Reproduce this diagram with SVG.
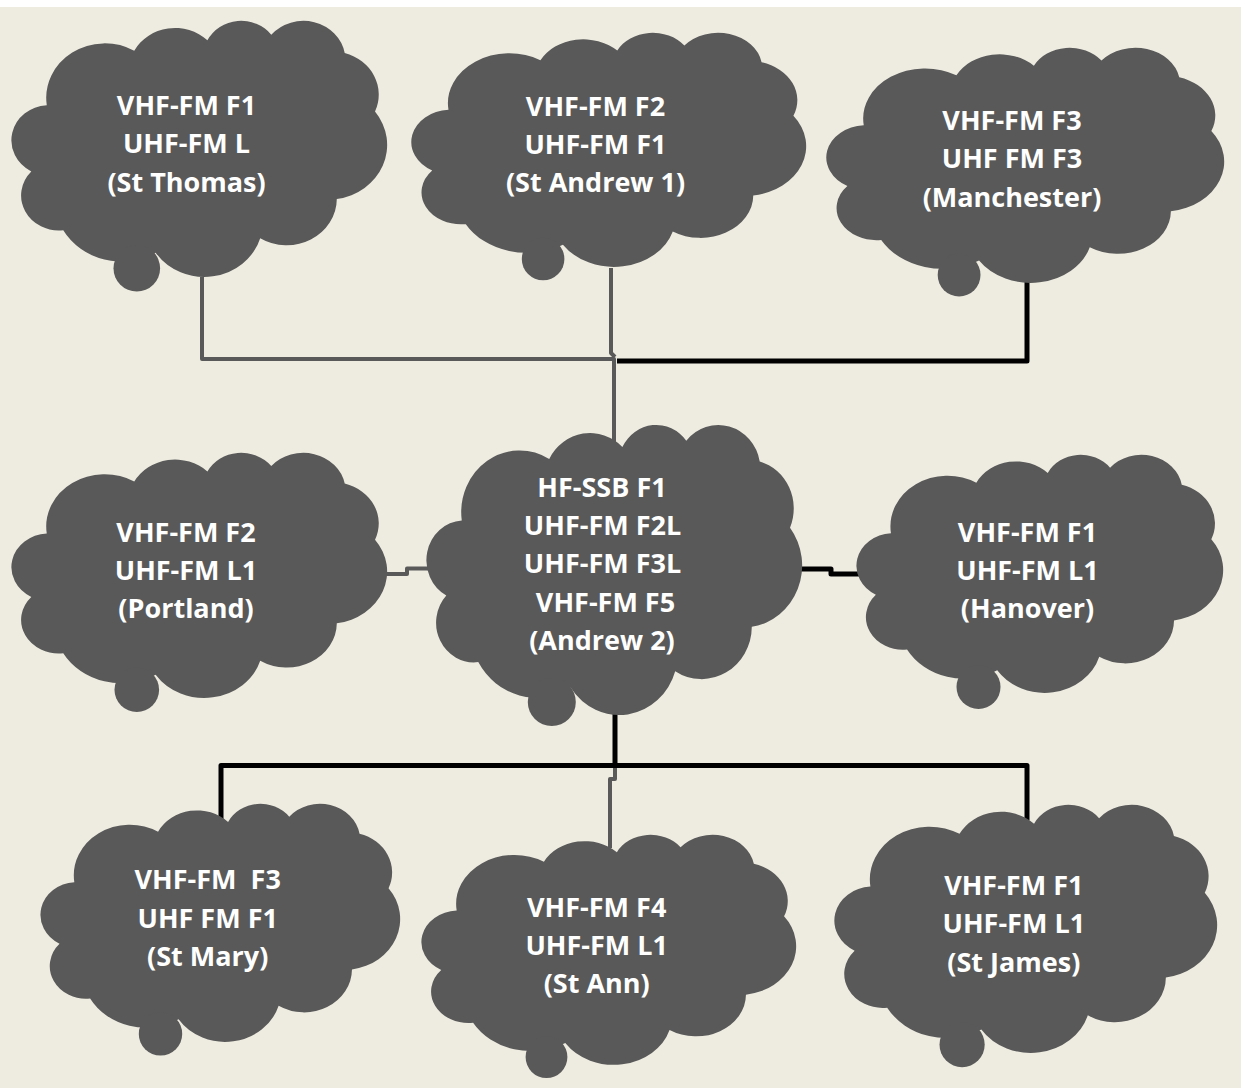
<svg xmlns="http://www.w3.org/2000/svg" xmlns:xlink="http://www.w3.org/1999/xlink" width="1241" height="1088" viewBox="0 0 1241 1088">
<style>
.bg{fill:#EEECE1}
.cl{fill:#595959}
.t{fill:#FFFFFF;font-family:"Open Sans","Liberation Sans",sans-serif;font-weight:bold;font-size:27px;text-anchor:middle}
.cg{fill:none;stroke:#595959;stroke-width:4;stroke-linejoin:round}
.cb{fill:none;stroke:#000000;stroke-width:5;stroke-linejoin:round}
</style>
<defs>
<path id="cloud" d="M 39 143.7 A 67.53 91.9 0 0 1 140.05 52.02 A 53.33 72.67 0 0 1 224.56 34.32 A 43.65 59.45 0 0 1 298.33 24.81 A 48.57 65.95 0 0 1 383.18 55.76 A 53.33 72.73 0 0 1 418.18 154.59 A 67.75 92.2 0 0 1 374.04 302.03 A 57.85 78.67 0 0 1 285.56 368.13 A 67.52 92.15 0 0 1 164.8 392.64 A 77.2 105.43 0 0 1 58.05 354.7 A 43.6 59.18 0 0 1 21.13 255.48 A 43.45 59.45 0 0 1 39 143.7 Z"/>
</defs>
<rect width="1241" height="1088" fill="#FFFFFF"/>
<rect class="bg" x="0" y="7" width="1241" height="1081"/>

<g id="connectors">
<path class="cg" d="M 202 277 V 359 H 614 V 443"/>
<path class="cg" d="M 611 268 V 353 L 615 357"/>
<path class="cb" d="M 1027 280 V 361 H 617"/>
<path class="cg" d="M 384 574 H 407 V 568.5 H 432"/>
<path class="cb" d="M 798 569 H 831 V 574 H 862"/>
<path class="cb" d="M 615 712 V 765.5"/>
<path class="cb" d="M 221 819 V 765.5 H 1027 V 820"/>
<path class="cg" d="M 615 768 V 779 H 610 V 848"/>
</g>

<g id="st-thomas">
<use xlink:href="#cloud" class="cl" transform="translate(13,20) scale(0.8657,0.5926)"/>
<circle class="cl" cx="136.8" cy="268.3" r="23.3"/>
<text class="t"><tspan x="186.5" y="115">VHF-FM F1</tspan><tspan x="186.5" y="153.3">UHF-FM L</tspan><tspan x="186.5" y="191.6">(St Thomas)</tspan></text>
</g>

<g id="st-andrew-1">
<use xlink:href="#cloud" class="cl" transform="translate(413,32) scale(0.9097,0.5417)"/>
<circle class="cl" cx="543.1" cy="259" r="21.3"/>
<text class="t"><tspan x="595.5" y="115.7">VHF-FM F2</tspan><tspan x="595.5" y="154">UHF-FM F1</tspan><tspan x="595.5" y="192.3">(St Andrew 1)</tspan></text>
</g>

<g id="manchester">
<use xlink:href="#cloud" class="cl" transform="translate(828,47) scale(0.9167,0.5440)"/>
<circle class="cl" cx="959.1" cy="275" r="21.4"/>
<text class="t"><tspan x="1012" y="130">VHF-FM F3</tspan><tspan x="1012" y="168.3">UHF FM F3</tspan><tspan x="1012" y="206.6">(Manchester)</tspan></text>
</g>

<g id="portland">
<use xlink:href="#cloud" class="cl" transform="translate(13,452) scale(0.8657,0.5671)"/>
<circle class="cl" cx="136.8" cy="689.7" r="22.3"/>
<text class="t"><tspan x="186" y="541.7">VHF-FM F2</tspan><tspan x="186" y="580">UHF-FM L1</tspan><tspan x="186" y="618.3">(Portland)</tspan></text>
</g>

<g id="andrew-2">
<use xlink:href="#cloud" class="cl" transform="translate(428,424) scale(0.8657,0.6713)"/>
<circle class="cl" cx="551.8" cy="702" r="24"/>
<text class="t"><tspan x="602" y="496.7">HF-SSB F1</tspan><tspan x="602.5" y="535">UHF-FM F2L</tspan><tspan x="602.5" y="573.2">UHF-FM F3L</tspan><tspan x="605.5" y="611.5">VHF-FM F5</tspan><tspan x="602" y="649.7">(Andrew 2)</tspan></text>
</g>

<g id="hanover">
<use xlink:href="#cloud" class="cl" transform="translate(858,454) scale(0.8449,0.5509)"/>
<circle class="cl" cx="978.5" cy="687" r="22"/>
<text class="t"><tspan x="1027.5" y="541.7">VHF-FM F1</tspan><tspan x="1027.5" y="580">UHF-FM L1</tspan><tspan x="1027.5" y="618.3">(Hanover)</tspan></text>
</g>

<g id="st-mary">
<use xlink:href="#cloud" class="cl" transform="translate(42,803) scale(0.8287,0.5509)"/>
<circle class="cl" cx="160.5" cy="1033.9" r="21.7"/>
<text class="t"><tspan x="207.7" y="889.3">VHF-FM&#160; F3</tspan><tspan x="207.7" y="927.5">UHF FM F1</tspan><tspan x="207.7" y="965.7">(St Mary)</tspan></text>
</g>

<g id="st-ann">
<use xlink:href="#cloud" class="cl" transform="translate(423,834) scale(0.8634,0.5324)"/>
<circle class="cl" cx="546.5" cy="1057.1" r="20.9"/>
<text class="t"><tspan x="596.7" y="916.7">VHF-FM F4</tspan><tspan x="596.7" y="955">UHF-FM L1</tspan><tspan x="596.7" y="993.3">(St Ann)</tspan></text>
</g>

<g id="st-james">
<use xlink:href="#cloud" class="cl" transform="translate(836,804) scale(0.8819,0.5741)"/>
<circle class="cl" cx="962.1" cy="1044.6" r="22.6"/>
<text class="t"><tspan x="1013.8" y="895">VHF-FM F1</tspan><tspan x="1013.8" y="933.3">UHF-FM L1</tspan><tspan x="1013.8" y="971.6">(St James)</tspan></text>
</g>
</svg>
